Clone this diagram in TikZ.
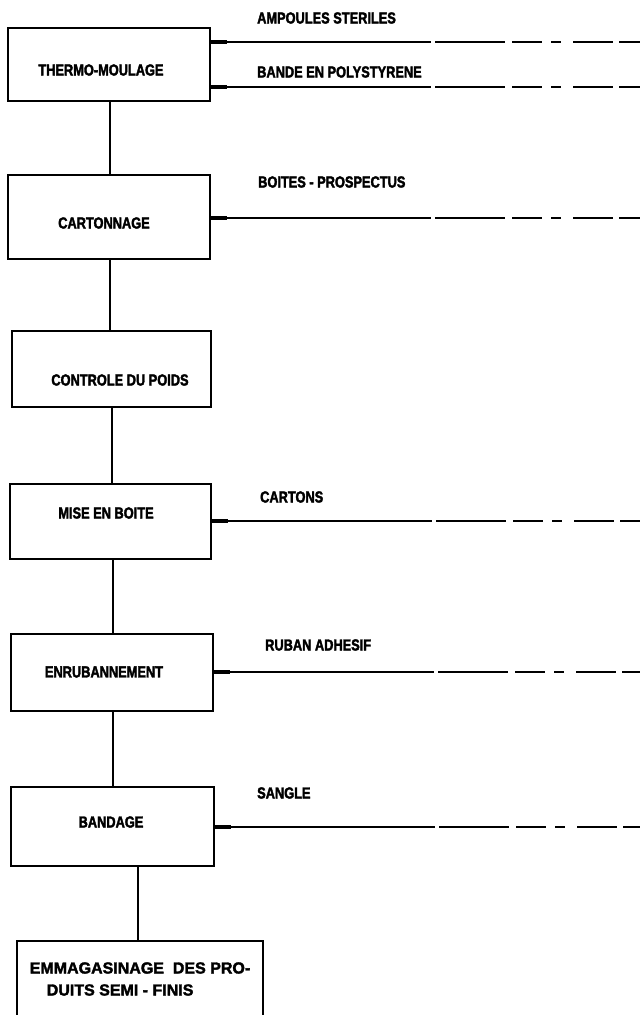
\documentclass[tikz,border=0pt]{standalone}
\usepackage{fontspec}
\newfontfamily\diafont{Liberation Sans}[FakeStretch=0.8, FakeBold=2.2]
\newfontfamily\widefont{Liberation Sans}[FakeStretch=1.0, FakeBold=2.2]
\begin{document}
\begin{tikzpicture}[x=1pt,y=-1pt,
  box/.style={draw, line width=2.6pt, inner sep=0pt},
  txt/.style={font=\diafont\bfseries\fontsize{16}{22}\selectfont, inner sep=0pt, align=center},
  link/.style={line width=2pt},
  feed/.style={line width=1.4pt, dash pattern=on 220pt off 4pt on 70pt off 7pt on 30pt off 9pt on 10pt off 12pt on 40pt off 6pt},
  stub/.style={line width=3.5pt}]
\useasboundingbox (0,0) rectangle (640,1015);
\clip (0,0) rectangle (640,1015);
\fill[white] (0,0) rectangle (640,1015);
% boxes
\node[box, minimum width=202pt, minimum height=73pt] (b1) at (109,64.5) {};
\node[box, minimum width=202pt, minimum height=84pt] (b2) at (109,217) {};
\node[box, minimum width=199pt, minimum height=76pt] (b3) at (111.5,369) {};
\node[box, minimum width=201pt, minimum height=75pt] (b4) at (110.5,521.5) {};
\node[box, minimum width=202pt, minimum height=77pt] (b5) at (112,672.5) {};
\node[box, minimum width=203pt, minimum height=79pt] (b6) at (112.5,826.5) {};
\node[box, minimum width=246pt, minimum height=95pt] (b7) at (140,988.5) {};
% box texts
\node[txt] (t1) at (101,70) {THERMO-MOULAGE};
\node[txt] (t2) at (104,223) {CARTONNAGE};
\node[txt] (t3) at (120,380) {CONTROLE DU POIDS};
\node[txt] (t4) at (106,513) {MISE EN BOITE};
\node[txt] (t5) at (104,672) {ENRUBANNEMENT};
\node[txt] (t6) at (111,822) {BANDAGE};
\node[txt, font=\widefont\bfseries\fontsize{16}{22}\selectfont, align=left] (t7) at (140,979) {EMMAGASINAGE\ \ DES PRO-\\\hspace*{17pt}DUITS SEMI - FINIS};
% supply labels
\node[txt, anchor=west] (l1) at (257,18) {AMPOULES STERILES};
\node[txt, anchor=west] (l2) at (257,72) {BANDE EN POLYSTYRENE};
\node[txt, anchor=west] (l3) at (258,182) {BOITES - PROSPECTUS};
\node[txt, anchor=west] (l4) at (260,497) {CARTONS};
\node[txt, anchor=west] (l5) at (265,645) {RUBAN ADHESIF};
\node[txt, anchor=west] (l6) at (257,793) {SANGLE};
% free ends of the supply lines
\coordinate (r1) at (640,42);
\coordinate (r2) at (640,87);
\coordinate (r3) at (640,218);
\coordinate (r4) at (640,521);
\coordinate (r5) at (640,672);
\coordinate (r6) at (640,827);
\foreach \b/\r in {b1/r1,b1/r2,b2/r3,b4/r4,b5/r5,b6/r6}{
  \draw[feed] (\b.east |- \r) -- (\r);
  \draw[stub] (\b.east |- \r) -- ++(16,0);
}
% vertical connectors
\draw[link] (b1.south -| 110,0) -- (b2.north -| 110,0);
\draw[link] (b2.south -| 110,0) -- (b3.north -| 110,0);
\draw[link] (b3.south -| 112,0) -- (b4.north -| 112,0);
\draw[link] (b4.south -| 113,0) -- (b5.north -| 113,0);
\draw[link] (b5.south -| 113,0) -- (b6.north -| 113,0);
\draw[link] (b6.south -| 138,0) -- (b7.north -| 138,0);
\end{tikzpicture}
\end{document}
